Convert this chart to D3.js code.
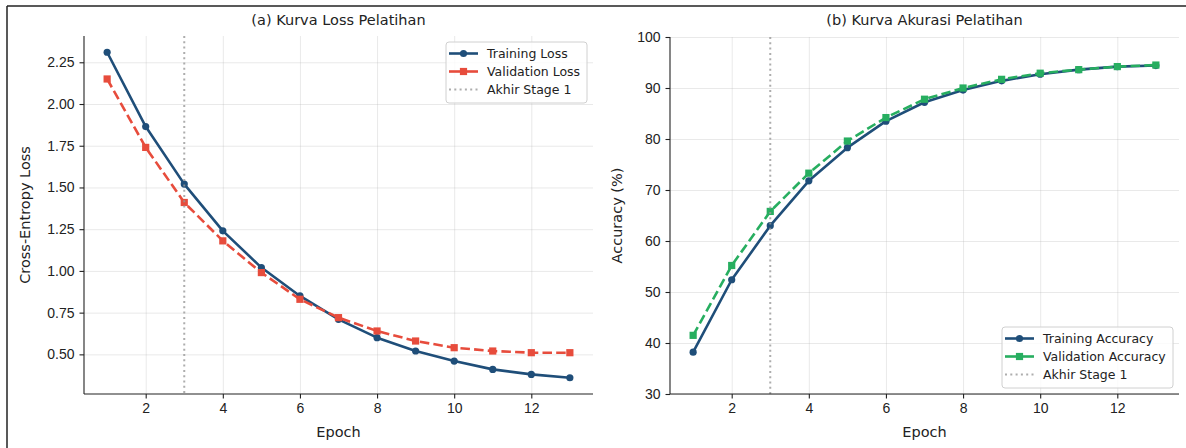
<!DOCTYPE html>
<html>
<head>
<meta charset="utf-8">
<script src="https://cdn.jsdelivr.net/npm/d3@7"></script>
<style>
    body { margin: 0; background: #fff; }
    svg { display: block; font-family: "DejaVu Sans", sans-serif; }
    .grid line { stroke: #b0b0b0; stroke-opacity: 0.35; stroke-width: 0.8; }
    .grid path { display: none; }
    .axis path, .axis line { stroke: #222; stroke-width: 1.1; }
    .axis text { fill: #222; font-size: 14px; }
</style>
</head>
<body>
<svg id="chart" width="1186" height="448"></svg>
<script>
'use strict';

// epochs and values
var epochs = [1, 2, 3, 4, 5, 6, 7, 8, 9, 10, 11, 12, 13];
var trainLoss = [2.31, 1.865, 1.52, 1.24, 1.02, 0.85, 0.71, 0.60, 0.52, 0.46, 0.41, 0.38, 0.36];
var valLoss = [2.15, 1.74, 1.41, 1.18, 0.99, 0.83, 0.72, 0.64, 0.58, 0.54, 0.52, 0.51, 0.51];
var trainAcc = [38.2, 52.4, 63.0, 71.8, 78.3, 83.5, 87.2, 89.6, 91.4, 92.7, 93.6, 94.2, 94.4];
var valAcc = [41.5, 55.2, 65.8, 73.3, 79.6, 84.2, 87.8, 90.0, 91.7, 92.9, 93.6, 94.2, 94.5];
var stageEnd = 3;

var xTicks = [2, 4, 6, 8, 10, 12];
var lossTicks = [0.50, 0.75, 1.00, 1.25, 1.50, 1.75, 2.00, 2.25];
var accTicks = [30, 40, 50, 60, 70, 80, 90, 100];

var navy = '#1f4e79';
var red = '#e74c3c';
var green = '#27ae60';

var svg = d3.select('#chart');

// figure frame (top and left edges only)
svg.append('line').attr('x1', 7).attr('y1', 6).attr('x2', 1186).attr('y2', 6)
    .attr('stroke', '#222').attr('stroke-width', 1.5);
svg.append('line').attr('x1', 7).attr('y1', 6).attr('x2', 7).attr('y2', 448)
    .attr('stroke', '#222').attr('stroke-width', 1.5);

/**
 * Draws one panel
 */
function drawPanel(opt) {
    var g = svg.append('g');
    var x = d3.scaleLinear().domain([0.4, 13.6]).range([opt.left, opt.right]);
    var y = d3.scaleLinear().domain(opt.yDomain).range([opt.bottom, opt.top]);

    // grid
    g.append('g').attr('class', 'grid')
        .attr('transform', 'translate(0,' + opt.bottom + ')')
        .call(d3.axisBottom(x).tickValues(xTicks).tickSize(-(opt.bottom - opt.top)).tickFormat(''));
    g.append('g').attr('class', 'grid')
        .attr('transform', 'translate(' + opt.left + ',0)')
        .call(d3.axisLeft(y).tickValues(opt.yTicks).tickSize(-(opt.right - opt.left)).tickFormat(''));

    var line = d3.line()
        .x(function (d, i) { return x(epochs[i]); })
        .y(function (d) { return y(d); });

    // training
    g.append('path').datum(opt.train)
        .attr('d', line)
        .attr('fill', 'none')
        .attr('stroke', navy)
        .attr('stroke-width', 2.6)
        .attr('stroke-linejoin', 'round');
    g.selectAll('.dot-train').data(opt.train).enter().append('circle')
        .attr('cx', function (d, i) { return x(epochs[i]); })
        .attr('cy', function (d) { return y(d); })
        .attr('r', 3.6)
        .attr('fill', navy);

    // validation
    g.append('path').datum(opt.val)
        .attr('d', line)
        .attr('fill', 'none')
        .attr('stroke', opt.valColor)
        .attr('stroke-width', 2.6)
        .attr('stroke-dasharray', '9.5,4.2');
    g.selectAll('.dot-val').data(opt.val).enter().append('rect')
        .attr('x', function (d, i) { return x(epochs[i]) - 3.6; })
        .attr('y', function (d) { return y(d) - 3.6; })
        .attr('width', 7.2)
        .attr('height', 7.2)
        .attr('fill', opt.valColor);

    // end of stage 1
    g.append('line')
        .attr('x1', x(stageEnd)).attr('x2', x(stageEnd))
        .attr('y1', opt.top).attr('y2', opt.bottom)
        .attr('stroke', '#999')
        .attr('stroke-opacity', 0.8)
        .attr('stroke-width', 2)
        .attr('stroke-dasharray', '2,3.3');

    // axes
    g.append('g').attr('class', 'axis')
        .attr('transform', 'translate(0,' + opt.bottom + ')')
        .call(d3.axisBottom(x).tickValues(xTicks).tickSize(4.5).tickPadding(5).tickSizeOuter(0))
        .call(function (a) { a.select('.domain').attr('d', 'M' + opt.left + ',0H' + opt.right); });
    g.append('g').attr('class', 'axis')
        .attr('transform', 'translate(' + opt.left + ',0)')
        .call(d3.axisLeft(y).tickValues(opt.yTicks).tickFormat(opt.yFormat).tickSize(4.5).tickPadding(5).tickSizeOuter(0))
        .call(function (a) { a.select('.domain').attr('d', 'M0,' + opt.bottom + 'V' + opt.top); });

    // title and labels
    g.append('text')
        .attr('x', (opt.left + opt.right) / 2).attr('y', 25)
        .attr('text-anchor', 'middle')
        .attr('font-size', '14.5px').attr('fill', '#222')
        .text(opt.title);
    g.append('text')
        .attr('x', (opt.left + opt.right) / 2).attr('y', 437)
        .attr('text-anchor', 'middle')
        .attr('font-size', '14.5px').attr('fill', '#222')
        .text('Epoch');
    g.append('text')
        .attr('transform', 'translate(' + opt.yLabelX + ',' + (opt.top + opt.bottom) / 2 + ') rotate(-90)')
        .attr('text-anchor', 'middle')
        .attr('font-size', '14.5px').attr('fill', '#222')
        .text(opt.yLabel);

    // legend
    var lg = g.append('g').attr('transform', 'translate(' + opt.legend[0] + ',' + opt.legend[1] + ')');
    lg.append('rect')
        .attr('width', opt.legend[2]).attr('height', 61)
        .attr('rx', 3)
        .attr('fill', '#fff').attr('fill-opacity', 0.8)
        .attr('stroke', '#d0d0d0');
    var items = [
        { name: opt.names[0], color: navy, dash: null, mark: 'circle' },
        { name: opt.names[1], color: opt.valColor, dash: null, mark: 'rect' },
        { name: 'Akhir Stage 1', color: '#999', dash: '2,3.3', mark: null }
    ];
    items.forEach(function (it, i) {
        var cy = 11.5 + i * 18;
        lg.append('line')
            .attr('x1', 3).attr('x2', 32).attr('y1', cy).attr('y2', cy)
            .attr('stroke', it.color)
            .attr('stroke-opacity', it.mark ? 1 : 0.8)
            .attr('stroke-width', it.mark ? 2.6 : 2)
            .attr('stroke-dasharray', it.dash);
        if (it.mark === 'circle') {
            lg.append('circle').attr('cx', 17.5).attr('cy', cy).attr('r', 3.6).attr('fill', it.color);
        } else if (it.mark === 'rect') {
            lg.append('rect').attr('x', 13.9).attr('y', cy - 3.6).attr('width', 7.2).attr('height', 7.2).attr('fill', it.color);
        }
        lg.append('text')
            .attr('x', 41).attr('y', cy + 4.5)
            .attr('font-size', '12.5px').attr('fill', '#222')
            .text(it.name);
    });
}

drawPanel({
    left: 84, right: 593, top: 36, bottom: 394,
    yDomain: [0.2625, 2.4075],
    yTicks: lossTicks,
    yFormat: d3.format('.2f'),
    train: trainLoss, val: valLoss, valColor: red,
    title: '(a) Kurva Loss Pelatihan',
    yLabel: 'Cross-Entropy Loss', yLabelX: 30,
    names: ['Training Loss', 'Validation Loss'],
    legend: [446, 42, 141]
});

drawPanel({
    left: 670, right: 1179, top: 37, bottom: 394,
    yDomain: [30, 100],
    yTicks: accTicks,
    yFormat: d3.format('d'),
    train: trainAcc, val: valAcc, valColor: green,
    title: '(b) Kurva Akurasi Pelatihan',
    yLabel: 'Accuracy (%)', yLabelX: 622,
    names: ['Training Accuracy', 'Validation Accuracy'],
    legend: [1002, 327, 171]
});
</script>
</body>
</html>
